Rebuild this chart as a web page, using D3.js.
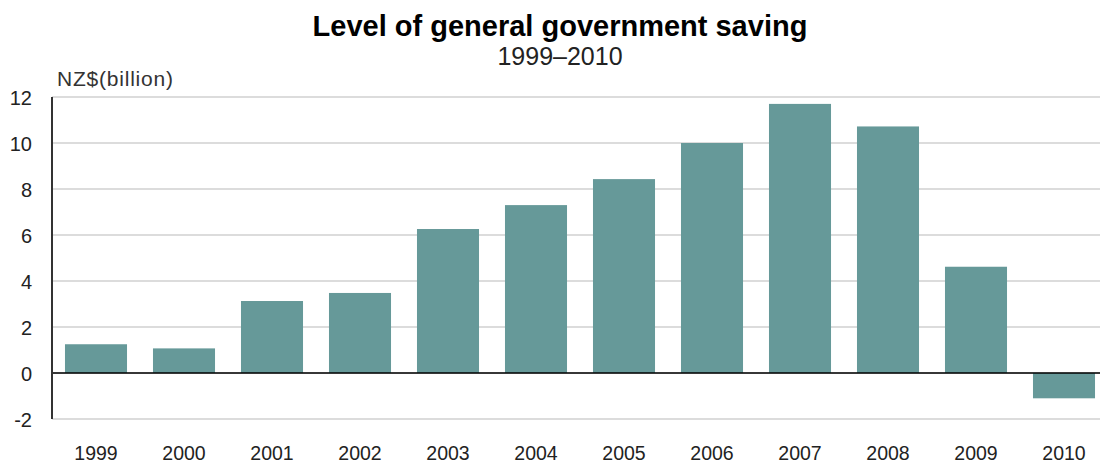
<!DOCTYPE html>
<html><head><meta charset="utf-8">
<script src="https://cdn.jsdelivr.net/npm/d3@7"></script>
<style>body{margin:0;background:#fff;}svg{display:block;font-family:"Liberation Sans",Arial,sans-serif;}</style>
</head><body>
<svg id="c" width="1100" height="465"></svg>
<script>
const years = ["1999","2000","2001","2002","2003","2004","2005","2006","2007","2008","2009","2010"];
const saving = [1.25, 1.07, 3.13, 3.48, 6.26, 7.3, 8.43, 10.0, 11.7, 10.72, 4.62, -1.1];
const yTicks = [-2, 0, 2, 4, 6, 8, 10, 12];
const title = "Level of general government saving";
const subtitle = "1999–2010";
const unitLabel = "NZ$(billion)";

(function(){
const svg = d3.select("#c");
const mLeft = 52, mRight = 1108, mTop = 97, mBottom = 419;
const x = d3.scaleBand().domain(years).range([mLeft, mRight]).paddingInner(0.295).paddingOuter(0.1475);
const y = d3.scaleLinear().domain([-2, 12]).range([mBottom, mTop]);

svg.append("g").selectAll("line").data(yTicks).join("line")
  .attr("x1", mLeft).attr("x2", 1100)
  .attr("y1", d => y(d)).attr("y2", d => y(d))
  .attr("stroke", "#d0d0d0").attr("stroke-width", 1.5);

svg.append("g").selectAll("rect").data(saving).join("rect")
  .attr("x", (d, i) => x(years[i]))
  .attr("width", x.bandwidth())
  .attr("y", d => y(Math.max(0, d)))
  .attr("height", d => Math.abs(y(d) - y(0)))
  .attr("fill", "#669999");

svg.append("line").attr("x1", mLeft).attr("x2", 1100).attr("y1", y(0)).attr("y2", y(0))
  .attr("stroke", "#000").attr("stroke-width", 1.5);

svg.append("line").attr("x1", mLeft).attr("x2", mLeft).attr("y1", y(12)).attr("y2", y(-2))
  .attr("stroke", "#333").attr("stroke-width", 2);

svg.append("g").selectAll("text").data(yTicks).join("text")
  .attr("x", 32).attr("y", d => y(d) + 8)
  .attr("text-anchor", "end").attr("font-size", 20).attr("fill", "#222")
  .text(d => d);

svg.append("g").selectAll("text").data(years).join("text")
  .attr("x", d => x(d) + x.bandwidth() / 2).attr("y", 460)
  .attr("text-anchor", "middle").attr("font-size", 19.5).attr("fill", "#222")
  .text(d => d);

svg.append("text").attr("x", 560).attr("y", 36).attr("text-anchor", "middle")
  .attr("font-size", 29).attr("font-weight", "bold").attr("fill", "#000").text(title);
svg.append("text").attr("x", 560).attr("y", 65).attr("text-anchor", "middle")
  .attr("font-size", 25).attr("fill", "#222").text(subtitle);
svg.append("text").attr("x", 57).attr("y", 86).attr("font-size", 21)
  .attr("textLength", 116).attr("lengthAdjust", "spacing").attr("fill", "#333").text(unitLabel);
})();
</script>
</body></html>
